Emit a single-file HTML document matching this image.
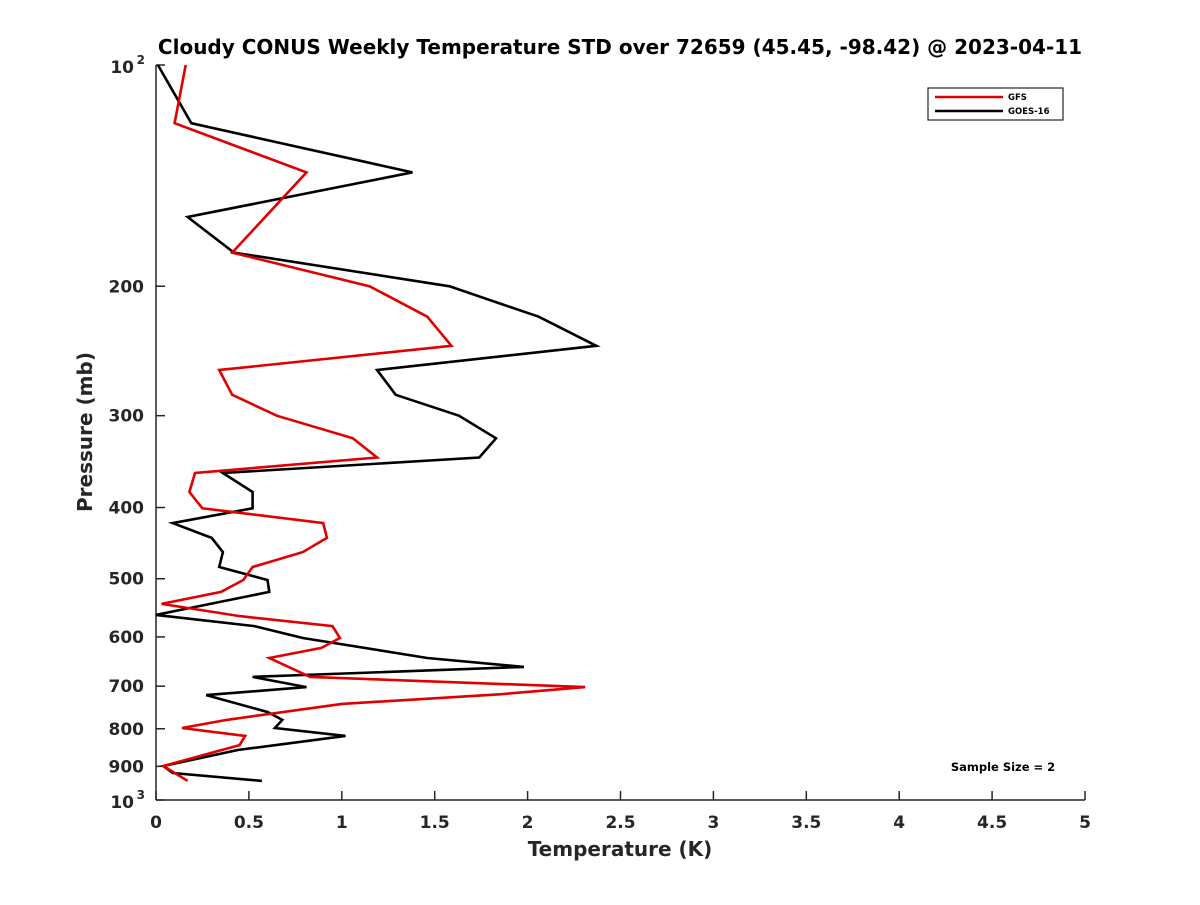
<!DOCTYPE html>
<html><head><meta charset="utf-8"><style>
body{margin:0;background:#fff;}
svg text{font-family:"DejaVu Sans","Liberation Sans",sans-serif;font-weight:bold;fill:#262626;}
</style></head><body>
<svg id="chart" width="1200" height="900" viewBox="0 0 1200 900" xmlns="http://www.w3.org/2000/svg">
<rect width="1200" height="900" fill="#fff"/>
<text x="620" y="54" text-anchor="middle" font-size="20" style="fill:#000">Cloudy CONUS Weekly Temperature STD over 72659 (45.45, -98.42) @ 2023-04-11</text>
<g id="axes"></g>
<g id="series"></g>
<text x="620" y="856" text-anchor="middle" font-size="20">Temperature (K)</text>
<text transform="translate(92,432) rotate(-90)" text-anchor="middle" font-size="20">Pressure (mb)</text>
<g>
<rect x="928" y="88" width="135" height="32" fill="#fff" stroke="#262626" stroke-width="1.2"/>
<line x1="935" y1="97" x2="1003" y2="97" stroke="#e00000" stroke-width="2.5"/>
<text x="1008" y="100" font-size="8.5" style="fill:#000">GFS</text>
<line x1="935" y1="111" x2="1003" y2="111" stroke="#000" stroke-width="2.5"/>
<text x="1008" y="114" font-size="8.5" style="fill:#000">GOES-16</text>
</g>
<text x="1003" y="771" text-anchor="middle" font-size="11.5" style="fill:#000">Sample Size = 2</text>
</svg>
<script>
const gfsP=[100,120,140,180,200,220,241,260,281,300,322,342,359,381,401,420,440,460,482,502,521,541,562,580,602,621,641,680,702,718,740,778,798,818,842,899,942];
const gfsT=[0.16,0.10,0.81,0.41,1.15,1.46,1.59,0.34,0.41,0.65,1.06,1.19,0.21,0.18,0.25,0.90,0.92,0.79,0.52,0.47,0.35,0.03,0.45,0.95,0.99,0.89,0.61,0.83,2.31,1.85,1.00,0.38,0.14,0.48,0.45,0.04,0.17];
const goesP=[100,120,140,161,180,200,220,241,260,281,300,322,342,359,381,401,420,440,460,482,502,521,560,580,602,641,659,680,702,720,759,778,798,818,855,899,919,942];
const goesT=[0.01,0.19,1.38,0.17,0.42,1.58,2.06,2.37,1.19,1.29,1.63,1.83,1.74,0.36,0.52,0.52,0.09,0.30,0.36,0.34,0.60,0.61,0.00,0.53,0.79,1.46,1.98,0.52,0.81,0.27,0.60,0.68,0.64,1.02,0.44,0.04,0.09,0.57];
const xTicks=[0,0.5,1,1.5,2,2.5,3,3.5,4,4.5,5];
const xTickLabels=["0","0.5","1","1.5","2","2.5","3","3.5","4","4.5","5"];
const yTicks=[100,200,300,400,500,600,700,800,900,1000];
const yTickLabels=["10|2","200","300","400","500","600","700","800","900","10|3"];
const X0=156,X1=1085,Y0=65,Y1=800;
const xs=t=>X0+(t/5)*(X1-X0);
const ys=p=>Y0+Math.log10(p/100)*(Y1-Y0);
const NS="http://www.w3.org/2000/svg";
const axes=document.getElementById('axes'),ser=document.getElementById('series');
function mk(tag,attrs,parent){const e=document.createElementNS(NS,tag);for(const k in attrs)e.setAttribute(k,attrs[k]);parent.appendChild(e);return e;}
const xa=mk('line',{x1:X0,y1:Y1,x2:X1,y2:Y1,stroke:'#262626','stroke-width':1.5},axes);


const ya=mk('line',{x1:X0,y1:Y0,x2:X0,y2:Y1,stroke:'#262626','stroke-width':1.5},axes);


xTicks.forEach((v,i)=>{const x=xs(v);
 mk('line',{x1:x,y1:Y1,x2:x,y2:Y1-9,stroke:'#262626','stroke-width':1.5},axes);
 const t=mk('text',{x:x,y:Y1+28,'text-anchor':'middle','font-size':17},axes);t.textContent=xTickLabels[i];
 
 });
yTicks.forEach((v,i)=>{const y=ys(v);
 mk('line',{x1:X0,y1:y,x2:X0+9,y2:y,stroke:'#262626','stroke-width':1.5},axes);
 const lab=yTickLabels[i];
 if(lab.indexOf('|')>=0){const [b,e]=lab.split('|');
  const t=mk('text',{x:X0-22,y:y+8,'text-anchor':'end','font-size':17},axes);t.textContent=b;
  
  
  const s=mk('text',{x:X0-11,y:y-1,'text-anchor':'end','font-size':12},axes);s.textContent=e;
  
  
 } else {
  const t=mk('text',{x:X0-12,y:y+6,'text-anchor':'end','font-size':17},axes);t.textContent=lab;
  
  }
});
function line(P,T,color,name){const pts=P.map((p,i)=>xs(T[i]).toFixed(1)+','+ys(p).toFixed(1)).join(' ');
 const l=mk('polyline',{points:pts,fill:'none',stroke:color,'stroke-width':2.6,'stroke-linejoin':'miter'},ser);
 
 }
line(goesP,goesT,'#000','goes16-line');
line(gfsP,gfsT,'#e00000','gfs-line');
</script>
</body></html>
